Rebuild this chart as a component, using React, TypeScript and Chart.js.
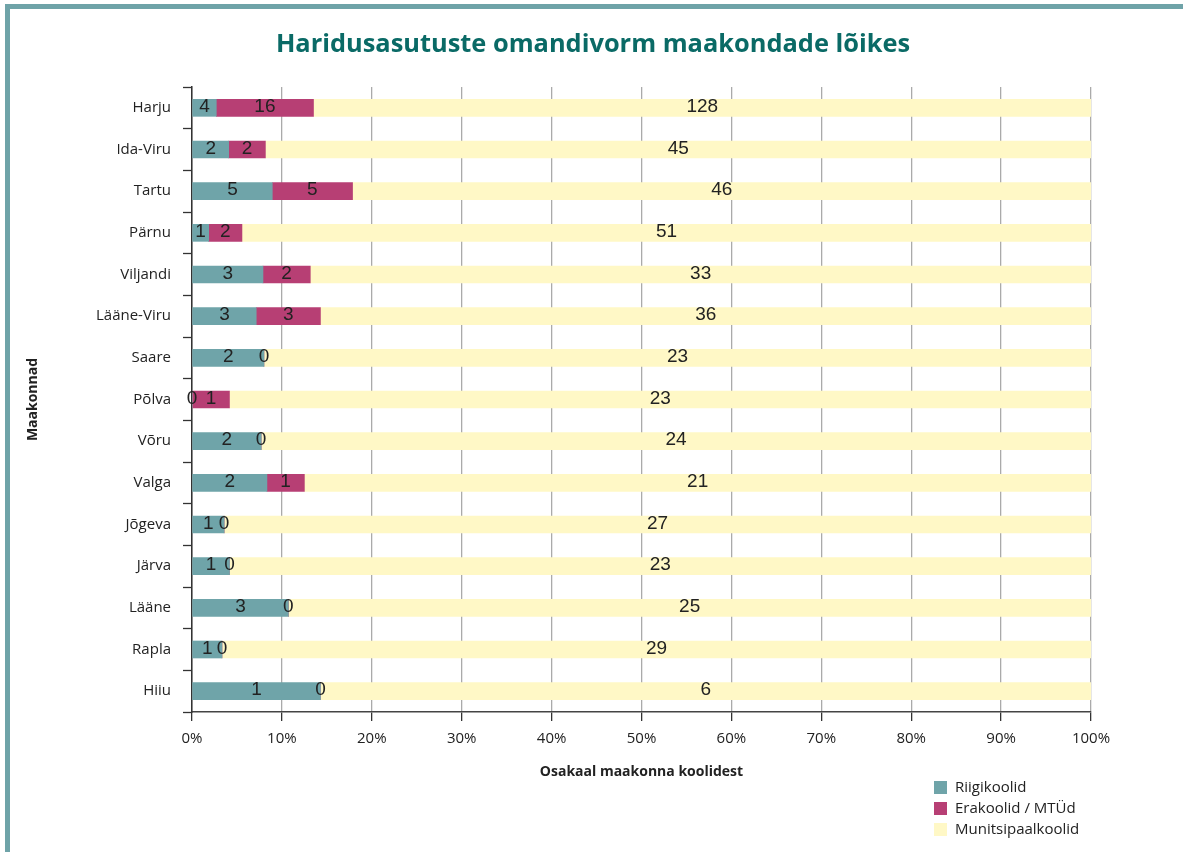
import React, { useEffect, useRef } from "react";
import { Chart, registerables } from "chart.js";

Chart.register(...registerables);

const categories = [
  "Harju", "Ida-Viru", "Tartu", "Pärnu", "Viljandi", "Lääne-Viru", "Saare", "Põlva",
  "Võru", "Valga", "Jõgeva", "Järva", "Lääne", "Rapla", "Hiiu",
];
const riigikoolid = [4, 2, 5, 1, 3, 3, 2, 0, 2, 2, 1, 1, 3, 1, 1];
const erakoolid = [16, 2, 5, 2, 2, 3, 0, 1, 0, 1, 0, 0, 0, 0, 0];
const munitsipaal = [128, 45, 46, 51, 33, 36, 23, 23, 24, 21, 27, 23, 25, 29, 6];
const seriesNames = ["Riigikoolid", "Erakoolid / MTÜd", "Munitsipaalkoolid"];
const seriesColors = ["#6fa4a9", "#b73f74", "#fff8c6"];
const xTickValues = [0, 10, 20, 30, 40, 50, 60, 70, 80, 90, 100];

const titleText = "Haridusasutuste omandivorm maakondade lõikes";
const xTitle = "Osakaal maakonna koolidest";
const yTitle = "Maakonnad";

const totals = categories.map((_, i) => riigikoolid[i] + erakoolid[i] + munitsipaal[i]);
const pct = (arr: number[]) => arr.map((v, i) => (v / totals[i]) * 100);
const counts = [riigikoolid, erakoolid, munitsipaal];

const FONT = "'Open Sans', 'Noto Sans', sans-serif";

const labelPlugin = {
  id: "segLabels",
  afterDatasetsDraw(chart: any) {
    const ctx = chart.ctx;
    ctx.save();
    ctx.font = "19px 'Liberation Sans', Arial, sans-serif";
    ctx.fillStyle = "#222";
    ctx.textAlign = "center";
    ctx.textBaseline = "middle";
    chart.data.datasets.forEach((ds: any, di: number) => {
      const meta = chart.getDatasetMeta(di);
      meta.data.forEach((el: any, i: number) => {
        const x = (el.x + el.base) / 2;
        ctx.fillText(String(counts[di][i]), x, el.y - 1);
      });
    });
    ctx.restore();
  },
};

const titleAndLegendPlugin = {
  id: "titleLegend",
  afterDraw(chart: any) {
    const ctx = chart.ctx;
    ctx.save();
    ctx.font = `bold 25.4px ${FONT}`;
    ctx.fillStyle = "#0a6a66";
    ctx.textAlign = "center";
    ctx.textBaseline = "middle";
    ctx.fillText(titleText, 593, 45);

    ctx.font = `15px ${FONT}`;
    ctx.textBaseline = "middle";
    ctx.textAlign = "left";
    chart.data.datasets.forEach((ds: any, i: number) => {
      const y = 788 + i * 21;
      ctx.fillStyle = ds.backgroundColor;
      ctx.fillRect(934, y - 7, 13, 13);
      ctx.fillStyle = "#222";
      ctx.fillText(ds.label, 955, y);
    });
    ctx.restore();
  },
};

export default function App() {
  const ref = useRef<HTMLCanvasElement | null>(null);
  useEffect(() => {
    if (!ref.current) return;
    const chart = new Chart(ref.current, {
      type: "bar",
      data: {
        labels: categories,
        datasets: [riigikoolid, erakoolid, munitsipaal].map((arr, i) => ({
          label: seriesNames[i],
          data: pct(arr),
          backgroundColor: seriesColors[i],
          borderWidth: 0,
          barThickness: 17,
        })),
      },
      options: {
        indexAxis: "y",
        animation: false,
        responsive: false,
        maintainAspectRatio: false,
        layout: { padding: { left: 25, right: 92, top: 87, bottom: 72 } },
        plugins: {
          legend: { display: false },
          tooltip: { enabled: false },
          title: { display: false },
        },
        scales: {
          x: {
            stacked: true,
            min: 0,
            max: 100,
            afterBuildTicks: (s: any) => {
              s.ticks = xTickValues.map((v) => ({ value: v }));
            },
            afterFit: (s: any) => {
              s.height = 68;
            },
            ticks: {
              callback: (v: any) => v + "%",
              color: "#222",
              font: { family: FONT, size: 15 },
              padding: 9,
            },
            grid: {
              color: "#aaaaaa",
              lineWidth: 1.3,
              tickLength: 9,
              tickColor: "#333",
              tickWidth: 1.3,
            },
            border: { color: "#444", width: 1.5 },
            title: {
              display: true,
              text: xTitle,
              color: "#222",
              font: { family: FONT, size: 14, weight: "bold" },
              padding: 0,
            },
          },
          y: {
            stacked: true,
            afterFit: (s: any) => {
              s.width = 167;
            },
            ticks: {
              color: "#222",
              font: { family: FONT, size: 15 },
              padding: 12,
            },
            grid: {
              offset: true,
              drawOnChartArea: false,
              tickLength: 9,
              tickColor: "#333",
              tickWidth: 1.3,
            },
            border: { color: "#333", width: 1.5 },
            title: {
              display: true,
              text: yTitle,
              color: "#222",
              font: { family: FONT, size: 14, weight: "bold" },
              padding: 0,
            },
          },
        },
      },
      plugins: [labelPlugin, titleAndLegendPlugin],
    } as any);
    return () => chart.destroy();
  }, []);

  return (
    <div style={{ position: "absolute", left: 0, top: 0, width: 1183, height: 852, background: "#fff", overflow: "hidden" }}>
      <div style={{ position: "absolute", left: 5, top: 4, width: 1178, height: 5, background: "#6fa3a8" }} />
      <div style={{ position: "absolute", left: 5, top: 4, width: 5, height: 848, background: "#6fa3a8" }} />
      <canvas ref={ref} width={1183} height={852} style={{ position: "absolute", left: 0, top: 0, width: 1183, height: 852 }} />
    </div>
  );
}
